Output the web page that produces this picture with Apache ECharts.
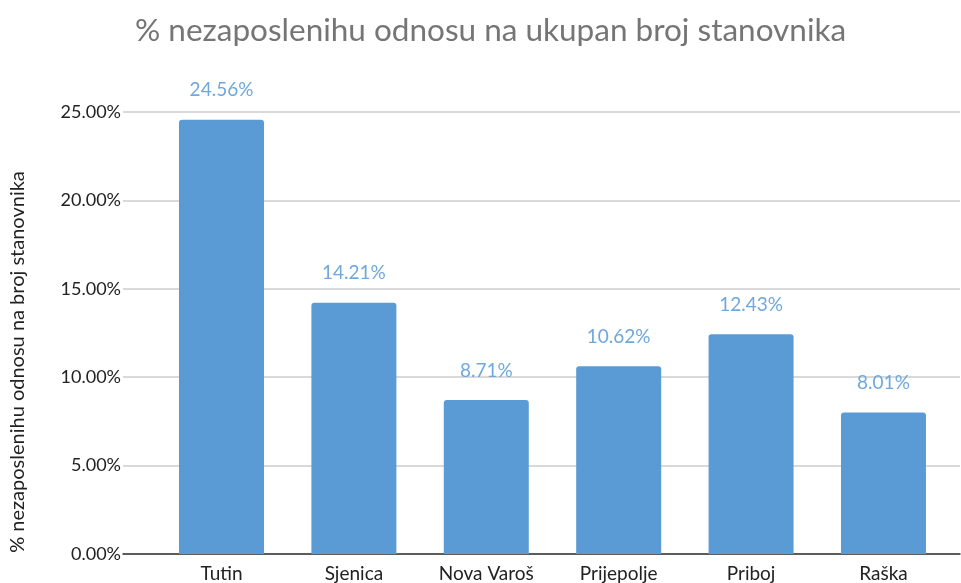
<!DOCTYPE html>
<html>
<head>
<meta charset="utf-8">
<script src="https://cdn.jsdelivr.net/npm/echarts@6/dist/echarts.min.js"></script>
<style>
    html, body { margin: 0; padding: 0; background: #fff; }
    #chart { width: 961px; height: 583px; }
</style>
</head>
<body>
<div id="chart"></div>
<script>
// podaci
const categories = ['Tutin', 'Sjenica', 'Nova Varoš', 'Prijepolje', 'Priboj', 'Raška'];
const values = [24.56, 14.21, 8.71, 10.62, 12.43, 8.01];
const yTicks = [0, 5, 10, 15, 20, 25];

const font = 'Lato, "Noto Sans", sans-serif';
const chart = echarts.init(document.getElementById('chart'));

// x je value osa da bi linije mreze isle od 123 do 960 kao u originalu
const catIdx = categories.map((c, i) => i);

chart.setOption({
    animation: false,
    title: {
        text: '% nezaposlenihu odnosu na ukupan broj stanovnika',
        left: 130,
        top: 10,
        textStyle: { fontFamily: font, fontSize: 31.5, fontWeight: 'normal', color: '#757575' }
    },
    graphic: [{
        type: 'text',
        x: 18,
        y: 362,
        rotation: Math.PI / 2,
        style: {
            text: '% nezaposlenihu odnosu na broj stanovnika',
            font: '20px ' + font,
            fill: '#222',
            align: 'center',
            verticalAlign: 'middle'
        }
    }],
    grid: { left: 123, right: 1, top: 112, bottom: 28, containLabel: false },
    xAxis: {
        type: 'value',
        min: -0.744,
        max: 5.578,
        splitLine: { show: false },
        axisTick: { show: false },
        axisLine: { show: true, onZero: false, lineStyle: { color: '#333', width: 1.5 } },
        axisLabel: {
            customValues: catIdx,
            formatter: v => categories[Math.round(v)],
            margin: 10,
            fontFamily: font,
            fontSize: 19,
            color: '#222'
        }
    },
    yAxis: {
        type: 'value',
        min: 0,
        max: 25,
        interval: 5,
        axisLine: { show: false },
        axisTick: { show: false },
        splitLine: { lineStyle: { color: '#cccccc', width: 1.5 } },
        axisLabel: {
            customValues: yTicks,
            formatter: v => v.toFixed(2) + '%',
            margin: 2,
            fontFamily: font,
            fontSize: 18,
            color: '#222'
        }
    },
    series: [{
        type: 'bar',
        data: values.map((v, i) => [i, v]),
        barWidth: 85,
        itemStyle: { color: '#5b9bd5', borderRadius: [3, 3, 0, 0] },
        label: {
            show: true,
            position: 'top',
            distance: 20,
            formatter: p => p.value[1].toFixed(2) + '%',
            fontFamily: font,
            fontSize: 19,
            color: '#6fa8dc'
        }
    }]
});
</script>
</body>
</html>
